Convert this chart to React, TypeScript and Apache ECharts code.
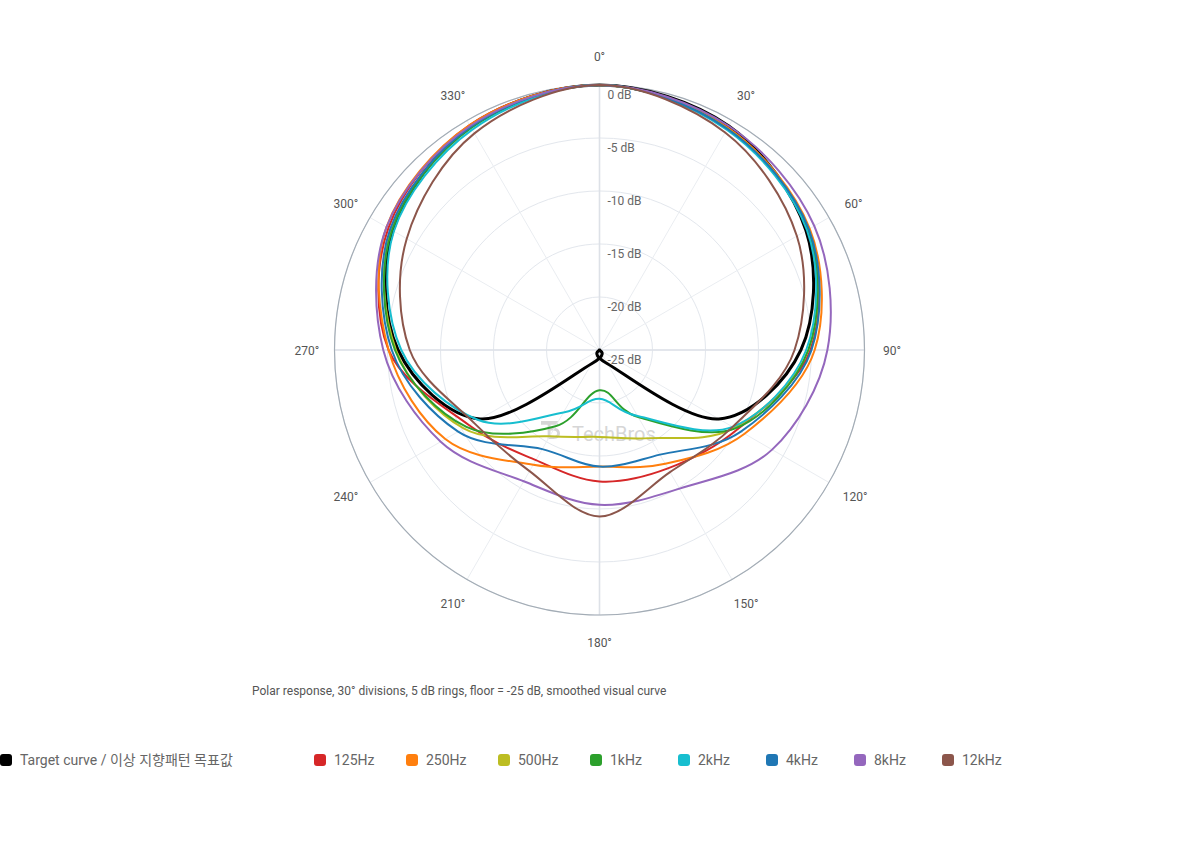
import React, { useEffect, useRef } from "react";
import * as echarts from "echarts";

// ---- data: dB read at every 30° division, 0° = front, clockwise ----
const angles = [0, 30, 60, 90, 120, 150, 180, 210, 240, 270, 300, 330];
const radiusTicks = [-25, -20, -15, -10, -5, 0];

const seriesNames = [
  "Target curve / 이상 지향패턴 목표값",
  "125Hz",
  "250Hz",
  "500Hz",
  "1kHz",
  "2kHz",
  "4kHz",
  "8kHz",
  "12kHz",
];

const target = [0, -0.6, -2.5, -6.0, -12.0, -23.5, -25, -23.5, -12.0, -6.0, -2.5, -0.6];
const hz125 = [0, -0.8, -2.3, -5.1, -10.0, -12.1, -12.6, -13.0, -10.8, -5.1, -2.0, -0.5];
const hz250 = [0, -0.8, -2.1, -4.7, -9.2, -12.6, -14.0, -12.5, -8.2, -5.1, -1.8, -0.5];
const hz500 = [0, -0.9, -2.3, -5.3, -10.3, -15.4, -16.8, -15.6, -10.2, -5.8, -2.3, -0.7];
const k1 = [0, -0.9, -2.3, -5.3, -10.2, -17.7, -21.2, -16.7, -10.5, -5.7, -2.4, -0.8];
const k2 = [0, -1.0, -2.4, -5.5, -10.5, -17.8, -20.4, -18.2, -11.8, -6.3, -2.6, -1.0];
const k4 = [0, -0.9, -2.2, -5.0, -9.6, -13.6, -14.0, -14.2, -9.6, -5.4, -2.2, -0.7];
const k8 = [0, -0.6, -1.6, -3.5, -6.2, -9.9, -10.4, -10.7, -7.7, -4.6, -1.8, -0.6];
const k12 = [0, -1.3, -3.5, -6.6, -10.5, -11.7, -9.3, -11.8, -11.3, -7.1, -4.0, -1.4];

const seriesValues = [target, hz125, hz250, hz500, k1, k2, k4, k8, k12];

const seriesColors = [
  "#000000",
  "#d62728",
  "#ff7f0e",
  "#bcbd22",
  "#2ca02c",
  "#17becf",
  "#1f77b4",
  "#9467bd",
  "#8c564b",
];

const caption =
  "Polar response, 30° divisions, 5 dB rings, floor = -25 dB, smoothed visual curve";

// ---- layout / style constants ----
const legendLefts = [0, 314, 406, 498, 590, 678, 766, 854, 942];
const FONT = "Roboto, 'Noto Sans CJK KR', 'Noto Sans', sans-serif";
const LOGO_D =
  "M0 0 H18 V4 H0 Z M7 0 H10 V19 H7 Z M10 7 H13 C18 7 20 10 20 13 C20 16 18 19 13 19 H10 V16 H13 C15.5 16 17 14.8 17 13 C17 11.2 15.5 10 13 10 H10 Z";

// per-label padding [top, right, bottom, left] so that angle labels sit centred on one ring
const angleLabelPad: Record<number, number[]> = {
  0: [0, 0, 22, 0],
  30: [0, 0, 18.5, 5],
  60: [0, 0, 7.5, 15.5],
  90: [2, 0, 0, 18.5],
  120: [8.5, 0, 0, 13.7],
  150: [18.5, 0, 0, 1.7],
  180: [22, 0, 0, 0],
  210: [18.5, 1.7, 0, 0],
  240: [8.5, 11.7, 0, 0],
  270: [2, 15.2, 0, 0],
  300: [0, 11.7, 7.5, 0],
  330: [0, 1.7, 18.5, 0],
};

// closed uniform Catmull-Rom through screen points (visual smoothing only)
function smoothClosedPath(pts: number[][]): string {
  const n = pts.length;
  let d = "M" + pts[0][0] + "," + pts[0][1];
  for (let i = 0; i < n; i++) {
    const p0 = pts[(i - 1 + n) % n];
    const p1 = pts[i];
    const p2 = pts[(i + 1) % n];
    const p3 = pts[(i + 2) % n];
    const c1x = p1[0] + (p2[0] - p0[0]) / 6;
    const c1y = p1[1] + (p2[1] - p0[1]) / 6;
    const c2x = p2[0] - (p3[0] - p1[0]) / 6;
    const c2y = p2[1] - (p3[1] - p1[1]) / 6;
    d += " C" + c1x + "," + c1y + " " + c2x + "," + c2y + " " + p2[0] + "," + p2[1];
  }
  return d + " Z";
}

export default function App() {
  const ref = useRef<HTMLDivElement>(null);

  useEffect(() => {
    if (!ref.current) return;
    echarts.graphic.registerShape("logo", echarts.graphic.extendPath(LOGO_D, {}));
    const chart = echarts.init(ref.current, undefined, { renderer: "svg" });

    const center = [599.5, 350];
    const radius = 265;

    const rich: Record<string, any> = {};
    angles.forEach((a) => {
      rich["a" + a] = {
        fontSize: 12,
        color: "#555",
        fontFamily: FONT,
        padding: angleLabelPad[a],
      };
    });

    const option: any = {
      animation: false,
      backgroundColor: "#ffffff",
      textStyle: { fontFamily: FONT },
      polar: [
        { center, radius },
        { center, radius },
      ],
      angleAxis: [
        {
          polarIndex: 0,
          type: "value",
          min: 0,
          max: 360,
          interval: 30,
          startAngle: 90,
          clockwise: true,
          axisLine: { show: true, lineStyle: { color: "#a3acb5", width: 1.2 } },
          axisTick: { show: false },
          axisLabel: {
            margin: 0,
            color: "#555",
            fontSize: 12,
            fontFamily: FONT,
            formatter: (v: number) => "{a" + v + "|" + v + "°}",
            rich,
          },
          splitLine: { show: true, lineStyle: { color: "#eaedf1", width: 1 } },
        },
        {
          polarIndex: 1,
          type: "value",
          min: 0,
          max: 360,
          interval: 90,
          startAngle: 90,
          clockwise: true,
          axisLine: { show: false },
          axisTick: { show: false },
          axisLabel: { show: false },
          splitLine: { show: true, lineStyle: { color: "#dde1e7", width: 1.6 } },
        },
      ],
      radiusAxis: [
        {
          polarIndex: 0,
          type: "value",
          min: radiusTicks[0],
          max: radiusTicks[radiusTicks.length - 1],
          interval: 5,
          axisLine: { show: false },
          axisTick: { show: false },
          axisLabel: {
            formatter: "{value} dB",
            color: "#666",
            fontSize: 12,
            fontFamily: FONT,
            margin: -8,
            align: "left",
            verticalAlign: "top",
            padding: [4, 0, 0, 0],
          },
          splitLine: { show: true, lineStyle: { color: "#e3e7ed", width: 1 } },
        },
        {
          polarIndex: 1,
          type: "value",
          min: radiusTicks[0],
          max: radiusTicks[radiusTicks.length - 1],
          show: false,
        },
      ],
      legend: seriesNames.map((n, i) => ({
        data: [n],
        left: legendLefts[i],
        top: 753,
        padding: 0,
        icon: "roundRect",
        itemWidth: 12,
        itemHeight: 12,
        itemGap: 0,
        textStyle: {
          fontSize: 14,
          color: "#666",
          fontFamily: FONT,
          padding: [0, 0, 0, 3],
        },
      })),
      graphic: [
        {
          type: "logo",
          x: 541,
          y: 421,
          scaleX: 0.95,
          scaleY: 0.95,
          z: 0,
          silent: true,
          style: { fill: "#d6d6d6" },
        },
        {
          type: "text",
          x: 572,
          y: 434,
          z: 0,
          silent: true,
          style: {
            text: "TechBros",
            fontSize: 20,
            fontFamily: FONT,
            fill: "#d6d6d6",
            verticalAlign: "middle",
          },
        },
        {
          type: "text",
          x: 252,
          y: 691,
          style: {
            text: caption,
            fontSize: 12,
            fontFamily: FONT,
            fill: "#555",
            verticalAlign: "middle",
          },
        },
      ],
      series: seriesNames.map((n, i) => {
        const vals = seriesValues[i];
        const color = seriesColors[i];
        const width = i === 0 ? 3 : 2;
        return {
          name: n,
          type: "custom",
          coordinateSystem: "polar",
          polarIndex: 0,
          data: vals.map((v, k) => [v, angles[k]]),
          itemStyle: { color },
          renderItem: (params: any, api: any) => {
            if (params.dataIndex !== 0) return null;
            const pts = vals.map((v, k) => api.coord([v, angles[k]]));
            return {
              type: "path",
              shape: { pathData: smoothClosedPath(pts) },
              style: {
                fill: "none",
                stroke: color,
                lineWidth: width,
                lineJoin: "round",
              },
            };
          },
        };
      }),
    };

    chart.setOption(option);
    return () => chart.dispose();
  }, []);

  return (
    <div
      ref={ref}
      style={{ position: "absolute", left: 0, top: 0, width: 1200, height: 860 }}
    />
  );
}
